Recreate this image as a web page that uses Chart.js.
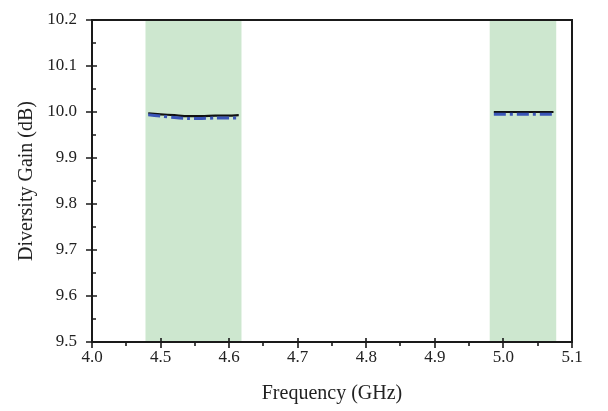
<!DOCTYPE html>
<html><head><meta charset="utf-8">
<script src="https://cdn.jsdelivr.net/npm/chart.js@4/dist/chart.umd.min.js"></script>
<style>html,body{margin:0;padding:0;background:#fff}#wrap{width:608px;height:411px}</style>
</head><body><div id="wrap"><canvas id="c" width="608" height="411"></canvas></div>
<script>
// Axis tick labels (axis is broken: first label "4.0" sits at the 4.4 position)
const xTickValues = [4.4, 4.5, 4.6, 4.7, 4.8, 4.9, 5.0, 5.1];
const xTickLabels = ["4.0", "4.5", "4.6", "4.7", "4.8", "4.9", "5.0", "5.1"];
const yTickLabels = ["9.5", "9.6", "9.7", "9.8", "9.9", "10.0", "10.1", "10.2"];
// Shaded operating bands (GHz, in axis coordinates)
const bands = [[4.478, 4.618], [4.980, 5.077]];
// Band 1 data
const band1Freq = [4.482, 4.50, 4.52, 4.54, 4.56, 4.58, 4.60, 4.614];
const band1Solid = [9.997, 9.995, 9.993, 9.991, 9.991, 9.992, 9.992, 9.993];
const band1Dashed = [9.994, 9.991, 9.988, 9.986, 9.986, 9.987, 9.987, 9.987];
// Band 2 data
const band2Freq = [4.986, 5.00, 5.02, 5.04, 5.06, 5.073];
const band2Solid = [10.0, 10.0, 10.0, 10.0, 10.0, 10.0];
const band2Dashed = [9.995, 9.995, 9.995, 9.995, 9.995, 9.995];

const pts = (xs, ys) => xs.map((x, i) => ({x, y: ys[i]}));
const FONT = "'Liberation Serif', 'DejaVu Serif', serif";

const framePlugin = {
  id: 'frame',
  beforeDatasetsDraw(chart) {
    const {ctx, chartArea: a, scales: {x}} = chart;
    ctx.save();
    ctx.fillStyle = '#cde7cf';
    bands.forEach(([b0, b1]) => {
      const p0 = x.getPixelForValue(b0), p1 = x.getPixelForValue(b1);
      ctx.fillRect(p0, a.top, p1 - p0, a.bottom - a.top);
    });
    ctx.restore();
  },
  afterDatasetsDraw(chart) {
    const {ctx, chartArea: a, scales: {x, y}} = chart;
    ctx.save();
    ctx.strokeStyle = '#1a1a1a';
    ctx.lineWidth = 2;
    ctx.strokeRect(a.left, a.top, a.right - a.left, a.bottom - a.top);
    ctx.lineWidth = 1.6;
    ctx.beginPath();
    for (let i = 0; i < xTickValues.length; i++) {
      const px = Math.round(x.getPixelForValue(xTickValues[i]));
      ctx.moveTo(px, a.bottom + 6); ctx.lineTo(px, a.bottom - 4);
      if (i < xTickValues.length - 1) {
        const mx = Math.round((px + x.getPixelForValue(xTickValues[i + 1])) / 2);
        ctx.moveTo(mx, a.bottom + 4); ctx.lineTo(mx, a.bottom);
      }
    }
    for (let i = 0; i < yTickLabels.length; i++) {
      const py = Math.round(y.getPixelForValue(parseFloat(yTickLabels[i])));
      ctx.moveTo(a.left - 6, py); ctx.lineTo(a.left + 5, py);
      if (i < yTickLabels.length - 1) {
        const my = Math.round((py + y.getPixelForValue(parseFloat(yTickLabels[i + 1]))) / 2);
        ctx.moveTo(a.left, my); ctx.lineTo(a.left + 4, my);
      }
    }
    ctx.stroke();
    ctx.restore();
  }
};

new Chart(document.getElementById('c'), {
  type: 'line',
  data: {
    datasets: [
      {data: pts(band1Freq, band1Dashed), borderColor: '#3a55b8', borderWidth: 3, borderDash: [12, 4, 3, 4], pointRadius: 0, tension: 0.3},
      {data: pts(band1Freq, band1Solid), borderColor: '#111', borderWidth: 2.2, pointRadius: 0, tension: 0.3},
      {data: pts(band2Freq, band2Dashed), borderColor: '#3a55b8', borderWidth: 3, borderDash: [12, 4, 3, 4], pointRadius: 0},
      {data: pts(band2Freq, band2Solid), borderColor: '#111', borderWidth: 2.2, pointRadius: 0}
    ]
  },
  options: {
    responsive: false,
    animation: false,
    layout: {padding: {top: 20, right: 36, left: 0, bottom: 0}},
    plugins: {legend: {display: false}, tooltip: {enabled: false}},
    scales: {
      x: {
        type: 'linear', min: 4.4, max: 5.1,
        afterBuildTicks: s => { s.ticks = xTickValues.map(v => ({value: v})); },
        afterFit: s => { s.height = 69; s.paddingLeft = 0; s.paddingRight = 0; },
        grid: {display: false, drawTicks: false},
        border: {display: false},
        ticks: {
          padding: 5, color: '#222', maxRotation: 0,
          font: {family: FONT, size: 17},
          callback: (v, i) => xTickLabels[i]
        },
        title: {display: true, text: 'Frequency (GHz)', color: '#222', font: {family: FONT, size: 20}, padding: {top: 0, bottom: 5}}
      },
      y: {
        type: 'linear', min: 9.5, max: 10.2,
        afterBuildTicks: s => { s.ticks = yTickLabels.map(t => ({value: parseFloat(t)})); },
        afterFit: s => { s.width = 92; s.paddingTop = 0; s.paddingBottom = 0; },
        grid: {display: false, drawTicks: false},
        border: {display: false},
        ticks: {
          padding: 15, color: '#222',
          font: {family: FONT, size: 17},
          callback: (v, i) => yTickLabels[i]
        },
        title: {display: true, text: 'Diversity Gain (dB)', color: '#222', font: {family: FONT, size: 20}, padding: {top: 15, bottom: 0}}
      }
    }
  },
  plugins: [framePlugin]
});
</script></body></html>
